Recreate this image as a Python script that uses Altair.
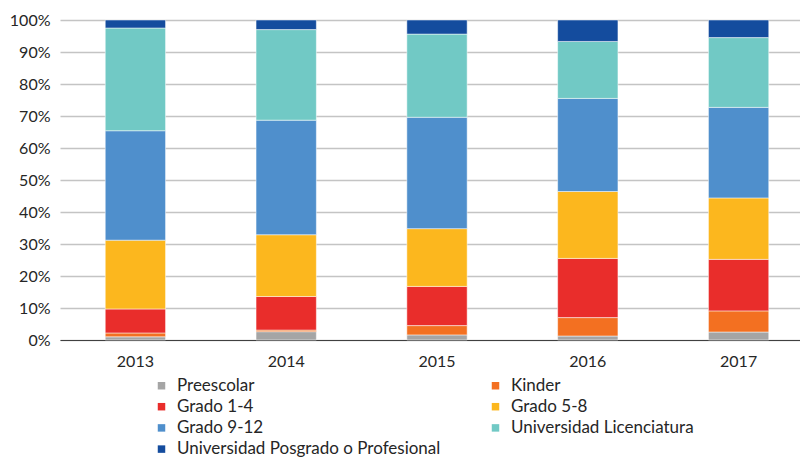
import altair as alt
import pandas as pd

years = ["2013", "2014", "2015", "2016", "2017"]
categories = [
    "Preescolar",
    "Kinder",
    "Grado 1-4",
    "Grado 5-8",
    "Grado 9-12",
    "Universidad Licenciatura",
    "Universidad Posgrado o Profesional",
]
colors = ["#A5A5A5", "#F37021", "#E92D2B", "#FCB71E", "#4F8FCC", "#71C9C5", "#144C9E"]

preescolar = [1.0, 2.6, 1.6, 1.25, 2.5]
kinder = [1.2, 0.5, 2.9, 5.75, 6.6]
grado_1_4 = [7.5, 10.5, 12.25, 18.5, 16.1]
grado_5_8 = [21.5, 19.3, 18.05, 20.9, 19.2]
grado_9_12 = [34.2, 35.8, 34.8, 29.1, 28.3]
licenciatura = [32.1, 28.3, 26.0, 17.8, 21.8]
posgrado = [2.5, 3.0, 4.4, 6.7, 5.5]

series = [preescolar, kinder, grado_1_4, grado_5_8, grado_9_12, licenciatura, posgrado]

rows = []
for ci, (cat, vals) in enumerate(zip(categories, series)):
    for y, v in zip(years, vals):
        rows.append({"Año": y, "Nivel": cat, "Valor": v, "orden": ci})
df = pd.DataFrame(rows)

FONT = "Lato"
TEXT = "#262626"

chart = (
    alt.Chart(df)
    .mark_bar(stroke="white", strokeWidth=0.5)
    .encode(
        x=alt.X(
            "Año:N",
            sort=years,
            title=None,
            scale=alt.Scale(paddingInner=0.6, paddingOuter=0.3, range=[0, 754]),
            axis=alt.Axis(
                labelAngle=0,
                ticks=False,
                domain=True,
                domainColor="#404040",
                domainWidth=1.2,
                labelPadding=13,
                labelFontSize=16,
                labelColor=TEXT,
                labelFont=FONT,
                grid=False,
            ),
        ),
        y=alt.Y(
            "Valor:Q",
            stack="normalize",
            title=None,
            scale=alt.Scale(domain=[0, 1]),
            axis=alt.Axis(
                format=".0%",
                values=[i / 10 for i in range(11)],
                labelOverlap=False,
                ticks=False,
                domain=False,
                gridColor="#C4C4C4",
                gridWidth=1.3,
                labelPadding=10,
                labelFontSize=16,
                labelColor=TEXT,
                labelFont=FONT,
            ),
        ),
        color=alt.Color(
            "Nivel:N",
            sort=categories,
            scale=alt.Scale(domain=categories, range=colors),
            legend=alt.Legend(
                title=None,
                orient="none",
                direction="horizontal",
                legendX=93,
                legendY=357,
                columns=2,
                symbolType="square",
                symbolSize=56,
                symbolStrokeWidth=0,
                labelFontSize=17,
                labelFont=FONT,
                labelColor=TEXT,
                labelOffset=7,
                rowPadding=3.2,
                columnPadding=46,
                labelLimit=400,
            ),
        ),
        order=alt.Order("orden:Q", sort="ascending"),
    )
    .properties(
        width=740,
        height=320,
        autosize=alt.AutoSizeParams(type="none"),
        padding={"left": 52, "top": 12, "right": 0, "bottom": 117},
    )
    .configure_view(stroke=None)
)

chart.save("out.html", embed_options={"renderer": "svg", "actions": False})
